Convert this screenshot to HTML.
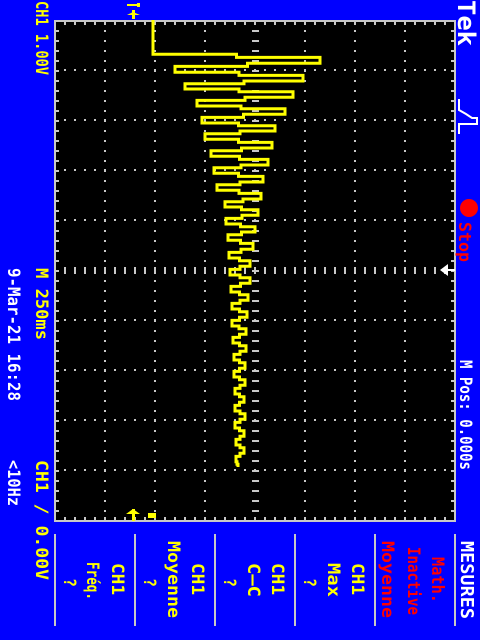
<!DOCTYPE html>
<html><head><meta charset="utf-8"><style>
html,body{margin:0;padding:0;background:#0000ff;}
svg{display:block;}
text{font-family:"DejaVu Sans Mono","Liberation Mono",monospace;font-weight:bold;}
</style></head><body>
<svg id="scope" width="480" height="640" viewBox="0 0 480 640" xmlns="http://www.w3.org/2000/svg">
<rect x="0" y="0" width="480" height="640" fill="#0000ff"/>
<rect x="55" y="21" width="400" height="500" fill="#000" stroke="#c8c8c8" stroke-width="2"/>
<g id="grid"></g>
<g id="trace"></g>

<g fill="#ffff00">
<rect x="127" y="4" width="13" height="2"/><rect x="137" y="3" width="3" height="4"/>
<polygon points="127,15 140,15 133,12"/><rect x="132" y="10" width="3" height="9"/>
</g>
<g fill="#ffff00">
<polygon points="126,514 140,514 133,509"/><rect x="132" y="509" width="3" height="12"/>
<rect x="148" y="513" width="8" height="5"/>
</g>
<g fill="#fff">
<polygon points="440,270 448,264 448,276"/><rect x="444" y="269" width="11" height="2"/>
</g>

<text x="36" y="1" transform="rotate(90 36 1)" fill="#ffff00" font-size="17" textLength="74" lengthAdjust="spacingAndGlyphs">CH1 1.00V</text>
<text x="36" y="268" transform="rotate(90 36 268)" fill="#ffff00" font-size="17" textLength="72" lengthAdjust="spacingAndGlyphs">M 250ms</text>
<text x="36" y="460" transform="rotate(90 36 460)" fill="#ffff00" font-size="17" textLength="120" lengthAdjust="spacingAndGlyphs">CH1 ∕ 0.00V</text>
<text x="8" y="268" transform="rotate(90 8 268)" fill="#fff" font-size="17" textLength="133" lengthAdjust="spacingAndGlyphs">9-Mar-21 16:28</text>
<text x="8" y="460" transform="rotate(90 8 460)" fill="#fff" font-size="17" textLength="46" lengthAdjust="spacingAndGlyphs">&lt;10Hz</text>

<text x="458" y="0" transform="rotate(90 458 0)" fill="#fff" font-size="24" font-weight="bold" font-family="Liberation Sans" textLength="46" lengthAdjust="spacingAndGlyphs">Tek</text>
<polyline points="459,99 459,110 466,114 472,118 477,118 477,124 459,124 459,134" fill="none" stroke="#fff" stroke-width="2"/>
<circle cx="469" cy="208" r="9" fill="#ff0000"/>
<text x="459" y="222" transform="rotate(90 459 222)" fill="#ff0000" font-size="17" textLength="40" lengthAdjust="spacingAndGlyphs">Stop</text>
<text x="460" y="360" transform="rotate(90 460 360)" fill="#fff" font-size="17" textLength="110" lengthAdjust="spacingAndGlyphs">M Pos: 0.000s</text>

<g fill="#c8c8c8">
<rect x="54" y="534" width="2" height="92"/><rect x="134" y="534" width="2" height="92"/>
<rect x="214" y="534" width="2" height="92"/><rect x="294" y="534" width="2" height="92"/>
<rect x="374" y="534" width="2" height="92"/><rect x="454" y="534" width="2" height="92"/>
</g>
<text x="461" y="541" transform="rotate(90 461 541)" fill="#fff" font-size="18" textLength="78" lengthAdjust="spacingAndGlyphs">MESURES</text>
<g fill="#ff0000" font-size="17">
<text x="432" y="557" transform="rotate(90 432 557)" textLength="46" lengthAdjust="spacingAndGlyphs">Math.</text>
<text x="408" y="547" transform="rotate(90 408 547)" textLength="68" lengthAdjust="spacingAndGlyphs">Inactive</text>
<text x="382" y="541" transform="rotate(90 382 541)" textLength="77" lengthAdjust="spacingAndGlyphs">Moyenne</text>
</g>
<g fill="#ffff00" font-size="17">
<text x="352" y="563" transform="rotate(90 352 563)" textLength="32" lengthAdjust="spacingAndGlyphs">CH1</text>
<text x="328" y="563" transform="rotate(90 328 563)" textLength="34" lengthAdjust="spacingAndGlyphs">Max</text>
<text x="304" y="578" transform="rotate(90 304 578)" textLength="9" lengthAdjust="spacingAndGlyphs">?</text>
</g>
<g fill="#ffff00" font-size="17">
<text x="272" y="563" transform="rotate(90 272 563)" textLength="32" lengthAdjust="spacingAndGlyphs">CH1</text>
<text x="248" y="563" transform="rotate(90 248 563)" textLength="34" lengthAdjust="spacingAndGlyphs">C–C</text>
<text x="224" y="578" transform="rotate(90 224 578)" textLength="9" lengthAdjust="spacingAndGlyphs">?</text>
</g>
<g fill="#ffff00" font-size="17">
<text x="192" y="563" transform="rotate(90 192 563)" textLength="32" lengthAdjust="spacingAndGlyphs">CH1</text>
<text x="168" y="541" transform="rotate(90 168 541)" textLength="77" lengthAdjust="spacingAndGlyphs">Moyenne</text>
<text x="144" y="578" transform="rotate(90 144 578)" textLength="9" lengthAdjust="spacingAndGlyphs">?</text>
</g>
<g fill="#ffff00" font-size="17">
<text x="112" y="563" transform="rotate(90 112 563)" textLength="32" lengthAdjust="spacingAndGlyphs">CH1</text>
<text x="87" y="562" transform="rotate(90 87 562)" textLength="38" lengthAdjust="spacingAndGlyphs">Fréq.</text>
<text x="64" y="578" transform="rotate(90 64 578)" textLength="9" lengthAdjust="spacingAndGlyphs">?</text>
</g>
</svg>
<script>
// Time (ms, relative to trigger) and voltage (V) of trace turning points
const startT = [-1250, -1090];
const startV = [0.40, 0.40];
const peakT = [-1045,-1000,-955,-915,-875,-830,-790,-745,-705,-665,-620,-580,-535,-495,-450,-410,-365,-325,-285,-240,-200,-160,-115,-70,-30,15,55,100,140,185,225,270,310,355,395,440,480,525,565,610,650,695,735,780,820,865,905,950,985];
const peakV = [3.74,0.84,3.40,1.04,3.20,1.28,3.04,1.38,2.84,1.44,2.78,1.56,2.70,1.62,2.60,1.68,2.56,1.84,2.50,1.86,2.44,1.90,2.40,1.92,2.34,1.94,2.34,1.96,2.30,1.98,2.28,1.98,2.26,2.00,2.26,2.02,2.24,2.02,2.24,2.04,2.22,2.04,2.24,2.04,2.22,2.06,2.22,2.06,2.10];

const X0 = 55, X1 = 455, Y0 = 21, Y1 = 521;
function vx(v){ return 133 + v * 50; }
function ty(t){ return 270 + t / 5; }
const NS = 'http://www.w3.org/2000/svg';
const grid = document.getElementById('grid');
function r(x,y,w,h,fill){
  const e = document.createElementNS(NS,'rect');
  e.setAttribute('x',x); e.setAttribute('y',y); e.setAttribute('width',w); e.setAttribute('height',h); e.setAttribute('fill',fill);
  grid.appendChild(e); return e;
}
for (let k = 1; k < 8; k++) {
  const x = X0 + k*50;
  for (let y = Y0 + 10; y < Y1; y += 10) {
    if (x === 255) r(x-3, y-1, 7, 2, '#c8c8c8'); else r(x-1, y-1, 2, 2, '#c8c8c8');
  }
}
for (let k = 1; k < 10; k++) {
  const y = Y0 + k*50 - 1;
  for (let x = X0 + 10; x < X1; x += 10) {
    if (y === 270) r(x-1, y-3, 2, 7, '#c8c8c8'); else r(x-1, y-1, 2, 2, '#c8c8c8');
  }
}
for (let x = X0 + 10; x < X1; x += 10) { r(x-1, Y0, 2, 4, '#c8c8c8'); r(x-1, Y1-4, 2, 4, '#c8c8c8'); }
for (let y = Y0 + 10; y < Y1; y += 10) { r(X0, y-1, 4, 2, '#c8c8c8'); r(X1-4, y-1, 4, 2, '#c8c8c8'); }

const pts = [];
for (let i = 0; i < startT.length; i++) pts.push([vx(startV[i]), ty(startT[i])]);
let prevX = vx(startV[startV.length-1]), prevY = ty(startT[startT.length-1]);
for (let i = 0; i < peakT.length; i++) {
  const nx = vx(peakV[i]), ny = ty(peakT[i]);
  const dy = ny - prevY;
  // small step down at the turn, run across, step mid-way, run to peak
  pts.push([prevX, prevY + dy*0.25]);
  pts.push([(prevX+nx)/2, prevY + dy*0.25]);
  pts.push([(prevX+nx)/2, prevY + dy*0.6]);
  pts.push([nx, prevY + dy*0.6]);
  pts.push([nx, ny]);
  prevX = nx; prevY = ny;
}
const pl = document.createElementNS(NS,'polyline');


pl.setAttribute('points', pts.map(p => p[0].toFixed(1)+','+p[1].toFixed(1)).join(' '));
pl.setAttribute('fill','none');
pl.setAttribute('stroke','#ffff00');
pl.setAttribute('stroke-width','3');
document.getElementById('trace').appendChild(pl);
</script>
</body></html>
